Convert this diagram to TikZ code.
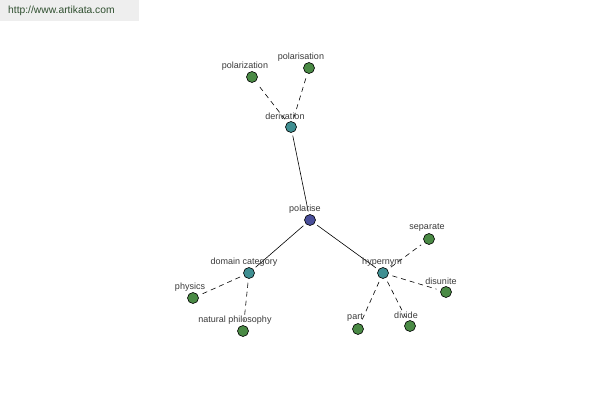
\documentclass[tikz,border=0pt]{standalone}
\usepackage{fontspec}
\setmainfont{Liberation Sans}
\begin{document}
\begin{tikzpicture}[x=1pt,y=-1pt,
  dot/.style={circle,draw=black,line width=0.6pt,minimum size=11pt,inner sep=0pt},
  leaf/.style={dot,fill=leafgreen},
  mid/.style={dot,fill=midteal},
  root/.style={dot,fill=rootblue},
  lbl/.style={font=\fontsize{9}{10}\selectfont,text=labelgray,inner sep=0pt},
  rel/.style={line width=0.6pt,shorten >=3pt,shorten <=3pt},
  syn/.style={line width=0.6pt,dash pattern=on 5pt off 4pt,shorten >=4pt,shorten <=4pt}]
\definecolor{leafgreen}{HTML}{4A8A45}
\definecolor{midteal}{HTML}{3F8F92}
\definecolor{rootblue}{HTML}{4A4F9A}
\definecolor{labelgray}{HTML}{3A3A3A}
\definecolor{bannerbg}{HTML}{EEEEEE}
\definecolor{bannertext}{HTML}{2F4F2F}
\useasboundingbox (0,0) rectangle (600,400);
\fill[white] (0,0) rectangle (600,400);
\fill[bannerbg] (0,0) rectangle (139,21);
\node[anchor=west,inner sep=0pt,font=\fontsize{10.3}{12}\selectfont,text=bannertext] (banner) at (8,11) {http://www.artikata.com};
% nodes
\node[root] (polarise) at (310,220) {};
\node[mid] (derivation) at (291,127) {};
\node[leaf] (polarization) at (252,77) {};
\node[leaf] (polarisation) at (309,68) {};
\node[mid] (domain) at (249,273) {};
\node[leaf] (physics) at (193,298) {};
\node[leaf] (natphil) at (243,331) {};
\node[mid] (hypernym) at (383,273) {};
\node[leaf] (separate) at (429,239) {};
\node[leaf] (disunite) at (446,292) {};
\node[leaf] (part) at (358,329) {};
\node[leaf] (divide) at (410,326) {};
% connectors
\draw[rel] (polarise) -- (derivation);
\draw[rel] (polarise) -- (domain);
\draw[rel] (polarise) -- (hypernym);
\draw[syn] (derivation) -- (polarization);
\draw[syn] (derivation) -- (polarisation);
\draw[syn] (domain) -- (physics);
\draw[syn] (domain) -- (natphil);
\draw[syn] (hypernym) -- (separate);
\draw[syn] (hypernym) -- (disunite);
\draw[syn] (hypernym) -- (part);
\draw[syn] (hypernym) -- (divide);
% labels
\node[lbl] (lpolarise) at (305,209) {polarise};
\node[lbl] (lderivation) at (285,116) {derivation};
\node[lbl] (lpolarization) at (245,66) {polarization};
\node[lbl] (lpolarisation) at (301,57) {polarisation};
\node[lbl] (ldomain) at (244,262) {domain category};
\node[lbl] (lphysics) at (190,287) {physics};
\node[lbl] (lnatphil) at (235,320) {natural philosophy};
\node[lbl] (lhypernym) at (382,262) {hypernym};
\node[lbl] (lseparate) at (427,228) {separate};
\node[lbl] (ldisunite) at (441,281) {disunite};
\node[lbl] (lpart) at (355,318) {part};
\node[lbl] (ldivide) at (406,315) {divide};
\end{tikzpicture}
\end{document}
